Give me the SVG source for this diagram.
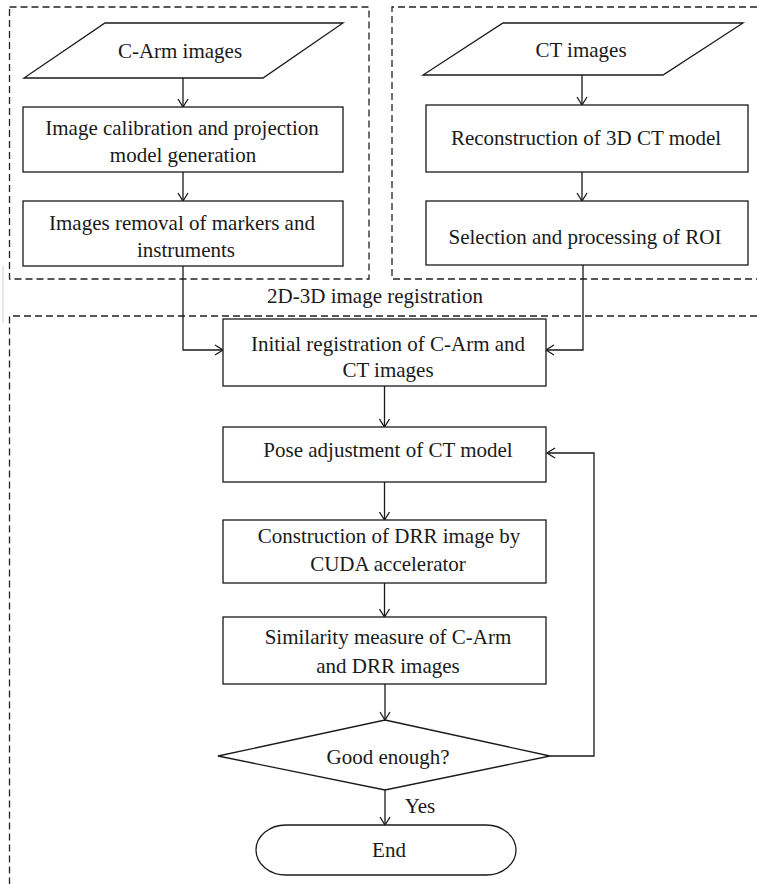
<svg xmlns="http://www.w3.org/2000/svg" width="757" height="884" viewBox="0 0 757 884">
<style>
.box{fill:#fff;stroke:#1a1a1a;stroke-width:1.3}
.dash{fill:none;stroke:#222;stroke-width:1.3;stroke-dasharray:7 4}
.conn{fill:none;stroke:#1a1a1a;stroke-width:1.3}
.t{font-family:"Liberation Serif","Times New Roman",serif;font-size:21px;fill:#1a1a1a;text-anchor:middle}
</style>
<defs>
<marker id="arr" markerUnits="userSpaceOnUse" markerWidth="12" markerHeight="12" viewBox="-10 -6 12 12" refX="0" refY="0" orient="auto">
<path d="M-8,-5 L0,0 L-8,5" fill="none" stroke="#1a1a1a" stroke-width="1.3"/>
</marker>
</defs>
<rect width="757" height="884" fill="#fff"/>
<g id="frames">
<line x1="3" y1="266" x2="3" y2="323" stroke="#cfcfcf" stroke-width="1"/>
<rect class="dash" x="9.5" y="7" width="359.5" height="272"/>
<path class="dash" d="M757,7 H392 V279 H757"/>
<path class="dash" d="M757,316 H9.5 V884"/>
<text class="t" x="375" y="303">2D-3D image registration</text>
</g>
<g id="connectors">
<line class="conn" x1="183" y1="78" x2="183" y2="107" marker-end="url(#arr)"/>
<line class="conn" x1="183" y1="172" x2="183" y2="201" marker-end="url(#arr)"/>
<line class="conn" x1="582" y1="75" x2="582" y2="105" marker-end="url(#arr)"/>
<line class="conn" x1="582" y1="172" x2="582" y2="201" marker-end="url(#arr)"/>
<path class="conn" d="M183,266 V350 H223" marker-end="url(#arr)"/>
<path class="conn" d="M583,265 V350 H546" marker-end="url(#arr)"/>
<line class="conn" x1="384.5" y1="386" x2="384.5" y2="427" marker-end="url(#arr)"/>
<line class="conn" x1="384.5" y1="482" x2="384.5" y2="520" marker-end="url(#arr)"/>
<line class="conn" x1="384.5" y1="583" x2="384.5" y2="617" marker-end="url(#arr)"/>
<line class="conn" x1="385" y1="684" x2="385" y2="720" marker-end="url(#arr)"/>
<line class="conn" x1="385" y1="790" x2="385" y2="825" marker-end="url(#arr)"/>
<path class="conn" d="M550,756 H594 V453 H547" marker-end="url(#arr)"/>
<text class="t" x="420" y="813">Yes</text>
</g>
<g id="carm">
<polygon class="box" points="105,23 343,23 263,78 24,78"/>
<text class="t" x="180" y="58">C-Arm images</text>
</g>
<g id="calib">
<rect class="box" x="23" y="107" width="320" height="65"/>
<text class="t" x="182" y="135">Image calibration and projection</text>
<text class="t" x="183" y="162">model generation</text>
</g>
<g id="removal">
<rect class="box" x="23" y="201" width="320" height="65"/>
<text class="t" x="182" y="230">Images removal of markers and</text>
<text class="t" x="186" y="257">instruments</text>
</g>
<g id="ct">
<polygon class="box" points="503,23 743,23 663,75 423,75"/>
<text class="t" x="581" y="57">CT images</text>
</g>
<g id="recon">
<rect class="box" x="426" y="105" width="322" height="67"/>
<text class="t" x="586" y="145">Reconstruction of 3D CT model</text>
</g>
<g id="roi">
<rect class="box" x="426" y="201" width="322" height="64"/>
<text class="t" x="585" y="244">Selection and processing of ROI</text>
</g>
<g id="initial">
<rect class="box" x="223" y="319" width="323" height="67"/>
<text class="t" x="388" y="351">Initial registration of C-Arm and</text>
<text class="t" x="388" y="377">CT images</text>
</g>
<g id="pose">
<rect class="box" x="223" y="427" width="323" height="55"/>
<text class="t" x="388" y="457">Pose adjustment of CT model</text>
</g>
<g id="drr">
<rect class="box" x="223" y="520" width="323" height="63"/>
<text class="t" x="389" y="543">Construction of DRR image by</text>
<text class="t" x="388" y="571">CUDA accelerator</text>
</g>
<g id="similarity">
<rect class="box" x="223" y="617" width="323" height="67"/>
<text class="t" x="388" y="644">Similarity measure of C-Arm</text>
<text class="t" x="388" y="673">and DRR images</text>
</g>
<g id="decision">
<polygon class="box" points="385,720 550,756 385,790 218,756"/>
<text class="t" x="388" y="764">Good enough?</text>
</g>
<g id="end">
<rect class="box" x="256" y="825" width="260" height="50" rx="30" ry="25"/>
<text class="t" x="389" y="857">End</text>
</g>
</svg>
